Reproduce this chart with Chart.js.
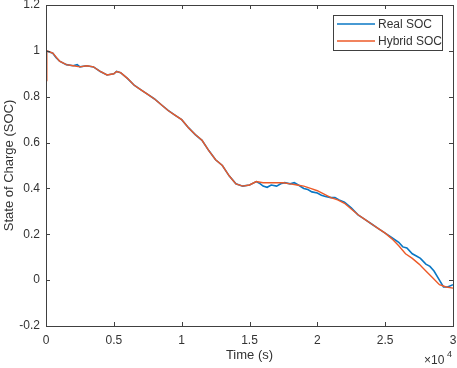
<!DOCTYPE html>
<html>
<head>
<meta charset="utf-8">
<script src="https://cdn.jsdelivr.net/npm/chart.js@4"></script>
<style>
  html, body { margin: 0; padding: 0; background: #fff; }
  #wrap { width: 457px; height: 368px; }
</style>
</head>
<body>
<div id="wrap"><canvas id="c" width="457" height="368"></canvas></div>
<script>
// time in seconds (axis shows x 10^4)
var realTime = [0, 250, 500, 750, 1000, 1500, 2000, 2300, 2500, 3000, 3500, 4000, 4500, 5000, 5200, 5500, 6000, 6500, 7000, 7500, 8000, 8500, 9000, 9500,
    10000, 10500, 11000, 11500, 12000, 12500, 13000, 13500, 14000, 14500, 15000, 15500, 15800, 16000, 16300, 16600, 17000, 17300, 17600, 18000, 18300, 18600,
    19000, 19300, 19600, 20000, 20300, 20600, 21000, 21300, 21600, 22000, 22500, 23000, 23500, 24000, 24500, 25000, 25500, 26000, 26300, 26600, 27000, 27300,
    27600, 28000, 28300, 28600, 29000, 29300, 29600, 30000];
var realSoc = [1.00, 0.995, 0.99, 0.97, 0.955, 0.94, 0.935, 0.94, 0.93, 0.935, 0.93, 0.91, 0.895, 0.90, 0.91, 0.905, 0.88, 0.85, 0.83, 0.81, 0.79, 0.765, 0.74, 0.72,
    0.70, 0.665, 0.635, 0.61, 0.565, 0.525, 0.50, 0.455, 0.42, 0.41, 0.415, 0.43, 0.42, 0.41, 0.405, 0.415, 0.41, 0.42, 0.425, 0.42, 0.425, 0.415,
    0.40, 0.395, 0.385, 0.38, 0.37, 0.365, 0.36, 0.36, 0.35, 0.34, 0.315, 0.285, 0.265, 0.245, 0.225, 0.205, 0.185, 0.165, 0.145, 0.14, 0.115, 0.105,
    0.095, 0.07, 0.06, 0.04, 0.0, -0.03, -0.03, -0.02];
var hybridTime = [0, 60, 500, 1000, 1500, 2000, 2500, 3000, 3500, 4000, 4500, 5000, 5200, 5500, 6000, 6500, 7000, 7500, 8000, 8500, 9000, 9500,
    10000, 10500, 11000, 11500, 12000, 12500, 13000, 13500, 14000, 14500, 15000, 15500, 16000, 16500, 17000, 17500, 18000, 18500,
    19000, 19500, 20000, 20500, 21000, 21500, 22000, 22500, 23000, 23500, 24000, 24500, 25000, 25500, 26000, 26500, 27000, 27500,
    28000, 28500, 29000, 29500, 30000];
var hybridSoc = [0.87, 1.00, 0.99, 0.955, 0.94, 0.935, 0.93, 0.935, 0.93, 0.91, 0.895, 0.90, 0.91, 0.905, 0.88, 0.85, 0.83, 0.81, 0.79, 0.765, 0.74, 0.72,
    0.70, 0.665, 0.635, 0.61, 0.565, 0.525, 0.50, 0.455, 0.42, 0.41, 0.415, 0.43, 0.425, 0.425, 0.425, 0.425, 0.42, 0.415,
    0.41, 0.40, 0.39, 0.375, 0.36, 0.35, 0.335, 0.31, 0.285, 0.265, 0.245, 0.225, 0.205, 0.18, 0.15, 0.115, 0.095, 0.07,
    0.04, 0.01, -0.02, -0.03, -0.035];
var xTicks = [0, 5000, 10000, 15000, 20000, 25000, 30000];
var yTicks = [-0.2, 0, 0.2, 0.4, 0.6, 0.8, 1, 1.2];
var seriesNames = ['Real SOC', 'Hybrid SOC'];
var seriesColors = ['#0A77C4', '#EC5A28'];

var axisColor = '#404040';
var textColor = '#333333';
var fontFamily = '"Liberation Sans", Arial, sans-serif';

function toPoints(xs, ys) {
    return xs.map(function (x, i) { return { x: x, y: ys[i] }; });
}

// рамка, внутренние засечки, легенда и множитель x10^4
var boxPlugin = {
    id: 'boxPlugin',
    afterDraw: function (chart) {
        var ctx = chart.ctx;
        var a = chart.chartArea;
        var xs = chart.scales.x, ys = chart.scales.y;
        ctx.save();
        ctx.strokeStyle = axisColor;
        ctx.lineWidth = 1;
        ctx.strokeRect(Math.round(a.left) + 0.5, Math.round(a.top) + 0.5, Math.round(a.right - a.left), Math.round(a.bottom - a.top));
        ctx.beginPath();
        xTicks.forEach(function (v) {
            var px = Math.round(xs.getPixelForValue(v)) + 0.5;
            ctx.moveTo(px, a.bottom); ctx.lineTo(px, a.bottom - 4);
            ctx.moveTo(px, a.top); ctx.lineTo(px, a.top + 4);
        });
        yTicks.forEach(function (v) {
            var py = Math.round(ys.getPixelForValue(v)) + 0.5;
            ctx.moveTo(a.left, py); ctx.lineTo(a.left + 4, py);
            ctx.moveTo(a.right, py); ctx.lineTo(a.right - 4, py);
        });
        ctx.stroke();

        // legend
        var lx = 333, ly = 15, lw = 109, lh = 35;
        ctx.fillStyle = '#fff';
        ctx.fillRect(lx, ly, lw, lh);
        ctx.strokeStyle = axisColor;
        ctx.strokeRect(lx + 0.5, ly + 0.5, lw, lh);
        ctx.font = '12px ' + fontFamily;
        ctx.textBaseline = 'middle';
        ctx.textAlign = 'left';
        seriesNames.forEach(function (name, i) {
            var yy = ly + 9 + i * 17;
            ctx.strokeStyle = seriesColors[i];
            ctx.lineWidth = 1.5;
            ctx.beginPath();
            ctx.moveTo(337, yy); ctx.lineTo(375, yy);
            ctx.stroke();
            ctx.fillStyle = textColor;
            ctx.fillText(name, 378, yy + 1);
        });

        // x10^4
        ctx.fillStyle = textColor;
        ctx.font = '12px ' + fontFamily;
        ctx.textAlign = 'left';
        ctx.fillText('\u00d710', 424, 361);
        ctx.font = '9px ' + fontFamily;
        ctx.fillText('4', 447, 355);
        ctx.restore();
    }
};

var ctx = document.getElementById('c').getContext('2d');
new Chart(ctx, {
    type: 'line',
    data: {
        datasets: [
            { label: seriesNames[0], data: toPoints(realTime, realSoc), borderColor: seriesColors[0], borderWidth: 1.6, pointRadius: 0, tension: 0, fill: false, order: 2 },
            { label: seriesNames[1], data: toPoints(hybridTime, hybridSoc), borderColor: seriesColors[1], borderWidth: 1.4, pointRadius: 0, tension: 0, fill: false, order: 1 }
        ]
    },
    options: {
        responsive: false,
        animation: false,
        devicePixelRatio: 1,
        layout: { padding: { left: 0, right: 4, top: 5, bottom: 0 } },
        scales: {
            x: {
                type: 'linear',
                min: 0,
                max: 30000,
                afterBuildTicks: function (scale) {
                    scale.ticks = xTicks.map(function (v) { return { value: v }; });
                },
                afterFit: function (scale) {
                    scale.height = 42;
                    scale.paddingLeft = 0;
                    scale.paddingRight = 0;
                },
                grid: { display: false, drawTicks: false },
                border: { display: false },
                ticks: {
                    padding: 7,
                    maxRotation: 0,
                    color: textColor,
                    font: { family: fontFamily, size: 12 },
                    callback: function (v) { return String(v / 10000); }
                },
                title: { display: true, text: 'Time (s)', color: textColor, font: { family: fontFamily, size: 13 }, padding: { top: 0, bottom: 5 } }
            },
            y: {
                min: -0.2,
                max: 1.2,
                afterBuildTicks: function (scale) {
                    scale.ticks = yTicks.map(function (v) { return { value: v }; });
                },
                afterFit: function (scale) {
                    scale.width = 46;
                    scale.paddingTop = 0;
                    scale.paddingBottom = 0;
                },
                grid: { display: false, drawTicks: false },
                border: { display: false },
                ticks: {
                    padding: 6,
                    color: textColor,
                    font: { family: fontFamily, size: 12 },
                    callback: function (v) { return String(Math.round(v * 10) / 10); }
                },
                title: { display: true, text: 'State of Charge (SOC)', color: textColor, font: { family: fontFamily, size: 13 }, padding: { top: 2, bottom: 0 } }
            }
        },
        plugins: {
            legend: { display: false },
            tooltip: { enabled: false }
        }
    },
    plugins: [boxPlugin]
});
</script>
</body>
</html>
